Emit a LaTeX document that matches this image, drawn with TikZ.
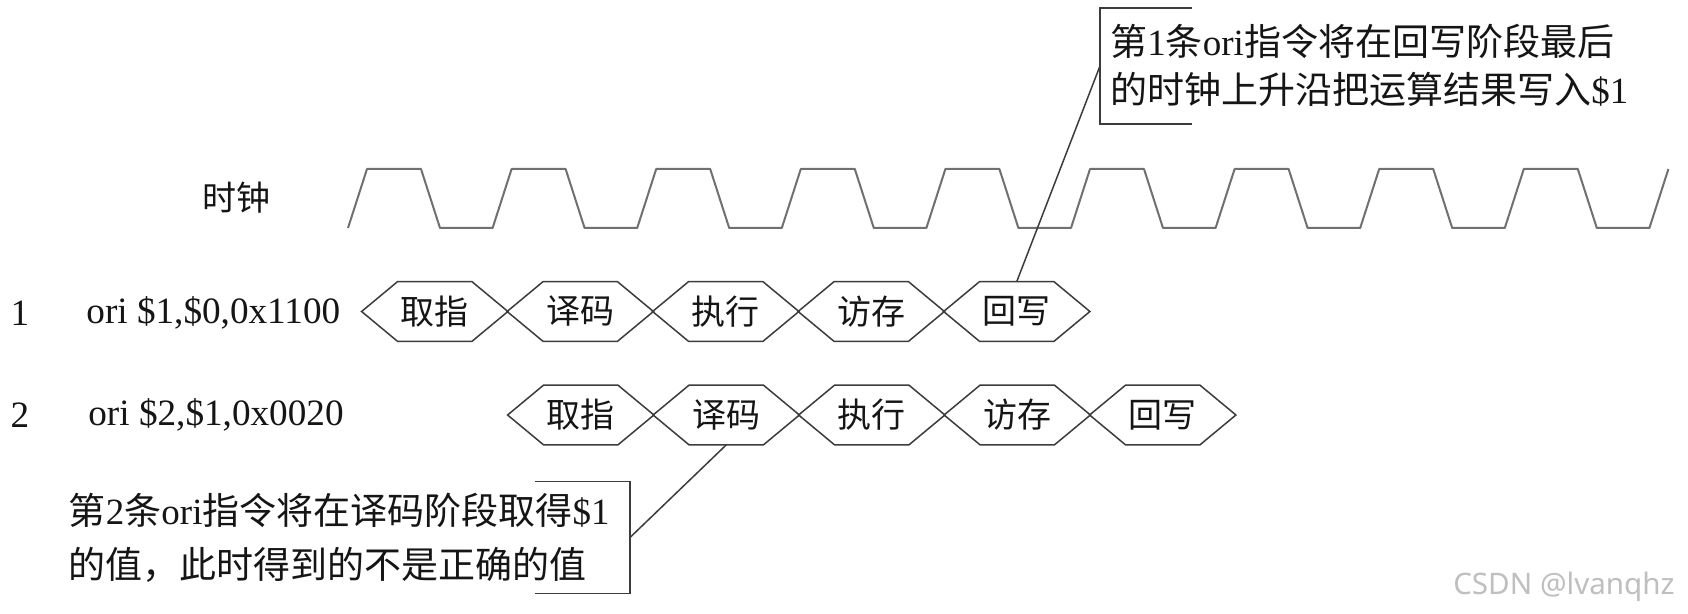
\documentclass[tikz,border=0pt]{standalone}
\usepackage{fontspec}
\setmainfont{Liberation Serif}
\newfontfamily\zhfont{Noto Sans CJK SC}
\newfontfamily\markfont{Noto Sans}
\newcommand{\zh}[1]{{\zhfont #1}}
\usetikzlibrary{positioning,calc}
\definecolor{ClockGray}{HTML}{707070}
\definecolor{EdgeGray}{HTML}{3C3C3C}
\definecolor{InkBlack}{HTML}{151515}

\begin{document}
\begin{tikzpicture}[x=0.5pt,y=-0.5pt,
    stagebox/.style={minimum width=36.75pt,minimum height=29.5pt,inner sep=0pt,
      text=InkBlack,font=\fontsize{17}{20}\selectfont\zhfont},
    hexline/.style={draw=EdgeGray,line width=0.75pt},
    clockline/.style={draw=ClockGray,line width=1pt,line join=round},
    rowtag/.style={inner sep=0pt,text=InkBlack,font=\fontsize{18.6}{22}\selectfont},
    note/.style={align=left,inner ysep=0pt,text=InkBlack,
      font=\fontsize{18.5}{24}\selectfont}]
  \path[use as bounding box,fill=white] (0,0) rectangle (1688,614);

  \node[stagebox,minimum width=0pt,minimum height=0pt] (clk) at (236,198) {时钟};
  \draw[clockline] (348,228) \foreach \k in {1,...,9} {
      -- ++(19,-59) -- ++(54,0) -- ++(19,59) -- ++(52.6,0)} -- ++(19,-59);

  \node[rowtag] (n1) at (20,313) {1};
  \node[rowtag,anchor=west] (i1) at (86,313) {ori \$1,\$0,0x1100};
  \node[rowtag] (n2) at (20,415) {2};
  \node[rowtag,anchor=west] (i2) at (88,415) {ori \$2,\$1,0x0020};

  \foreach \stg [count=\i] in {取指,译码,执行,访存,回写} {
    \node[stagebox] (a\i) at (289.25+145.5*\i,311.5) {\stg};
    \draw[hexline] (a\i.north west) -- (a\i.north east) -- ($(a\i.east)+(36,0)$)
      -- (a\i.south east) -- (a\i.south west) -- ($(a\i.west)+(-36,0)$) -- cycle;
    \node[stagebox] (b\i) at (435.25+145.5*\i,415) {\stg};
    \draw[hexline] (b\i.north west) -- (b\i.north east) -- ($(b\i.east)+(36,0)$)
      -- (b\i.south east) -- (b\i.south west) -- ($(b\i.west)+(-36,0)$) -- cycle;
  }

  \node[note,anchor=north west,inner xsep=5pt,minimum height=57.5pt] (note1) at (1100,8)
    {\zh{第}1\zh{条}ori\zh{指令将在回写阶段最后}\\\zh{的时钟上升沿把运算结果写入}\$1};
  \draw[hexline] ($(note1.north west)+(92,0)$) -- (note1.north west)
    -- (note1.south west) -- ++(92,0);
  \draw[hexline] (note1.west) -- (a5.north);

  \node[note,anchor=east,inner xsep=10pt,minimum height=55.5pt] (note2) at (630,537.5)
    {\zh{第}2\zh{条}ori\zh{指令将在译码阶段取得}\$1\\[3pt]\zh{的值，此时得到的不是正确的值}};
  \draw[hexline] ($(note2.north east)+(-95,0)$) -- (note2.north east)
    -- (note2.south east) -- ++(-95,0);
  \draw[hexline] (note2.east) -- (b2.south);

  \node[anchor=east,inner sep=0pt,text=black!25,font=\fontsize{14.8}{17}\selectfont\markfont]
    (wm) at (1675,587) {CSDN @lvanqhz};
\end{tikzpicture}
\end{document}
